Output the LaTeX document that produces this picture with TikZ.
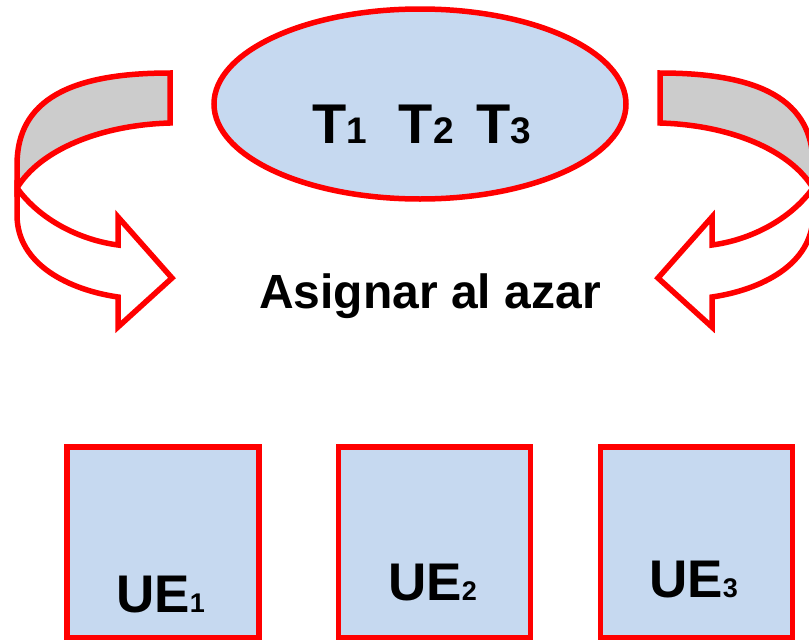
\documentclass[tikz,border=0pt]{standalone}
\usepackage{fontspec}
\setmainfont{Liberation Sans}
\usepackage{tikz}
\usetikzlibrary{shapes.geometric}

\definecolor{paleblue}{RGB}{198,217,240}
\definecolor{bandgray}{RGB}{204,204,204}

\tikzset{
  redline/.style={draw=red, line width=5.5pt},
  unitbox/.style={redline, fill=paleblue, rectangle, inner sep=0pt,
                  minimum width=192pt, minimum height=191pt},
  boldtext/.style={inner sep=0pt, font=\bfseries\fontsize{#1}{#1}\selectfont}
}

\newcommand\tsub[1]{{\fontsize{37}{37}\selectfont #1}}
\newcommand\usub[1]{{\fontsize{27}{27}\selectfont #1}}
\newcommand\turnarrow{%
  \draw [redline, fill=bandgray] (170,73) -- (170,123)
        .. controls (100,125) and (40,150) .. (17,188) -- (17,165)
        .. controls (17,100) and (70,73) .. (170,73) -- cycle;
  \draw [redline, fill=white] (17,188)
        .. controls (40,220) and (80,240) .. (118,245) -- (118,217) -- (172,278)
        -- (118,327) -- (118,297)
        .. controls (70,290) and (17,265) .. (17,215) -- cycle;
}

\begin{document}
\begin{tikzpicture}[x=1pt, y=-1pt]
  \path [use as bounding box, clip] (0,0) rectangle (809,640);

  \turnarrow
  \begin{scope}[shift={(830,0)}, xscale=-1]
    \turnarrow
  \end{scope}

  \node [redline, fill=paleblue, ellipse, inner sep=0pt,
         minimum width=412pt, minimum height=190pt] (treat) at (420,104) {};
  \node [boldtext=56, anchor=base west] (tlist) at (312,143)
        {T\tsub{1}\hspace{32pt}T\tsub{2}\hspace{23pt}T\tsub{3}};

  \node [boldtext=48, anchor=base] (assign) at (430,308) {Asignar al azar};

  \node [unitbox] (ue1) at (163,542.5) {};
  \node [unitbox] (ue2) at (434.5,542.5) {};
  \node [unitbox] (ue3) at (696.5,542.5) {};
  \node [boldtext=53, anchor=base west] (ue1txt) at (116,612) {UE\usub{1}};
  \node [boldtext=53, anchor=base west] (ue2txt) at (388,600) {UE\usub{2}};
  \node [boldtext=53, anchor=base west] (ue3txt) at (649,597) {UE\usub{3}};
\end{tikzpicture}
\end{document}
